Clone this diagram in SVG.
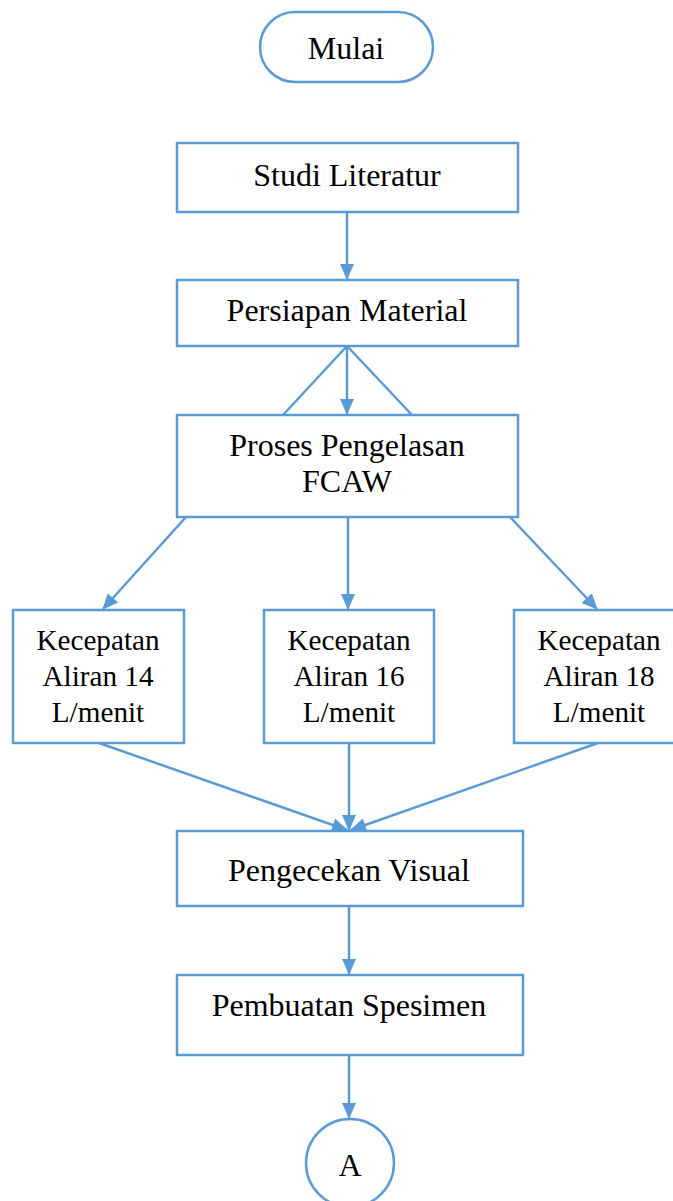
<svg xmlns="http://www.w3.org/2000/svg" width="673" height="1201" viewBox="0 0 673 1201">
<style>
.n{fill:#fff;stroke:#5B9BD5;stroke-width:2.5}
.t{font-family:"Liberation Serif","Times New Roman",serif;font-size:32px;fill:#000;text-anchor:middle}
.s{font-family:"Liberation Serif","Times New Roman",serif;font-size:29.2px;fill:#000;text-anchor:middle}
.c{fill:none;stroke:#5B9BD5;stroke-width:2.5}
</style>
<defs>
<marker id="ah" markerUnits="userSpaceOnUse" markerWidth="16" markerHeight="16" viewBox="0 0 16 16" refX="15" refY="8" orient="auto">
<path d="M0,1 L16,8 L0,15 Z" fill="#5B9BD5"/>
</marker>
</defs>
<rect width="673" height="1201" fill="#fff"/>
<g id="connectors">
<line class="c" x1="347" y1="212" x2="347" y2="279" marker-end="url(#ah)"/>
<line class="c" x1="347" y1="346" x2="347" y2="414" marker-end="url(#ah)"/>
<line class="c" x1="347" y1="346" x2="283" y2="415"/>
<line class="c" x1="347" y1="346" x2="412" y2="415"/>
<line class="c" x1="186" y1="517" x2="103" y2="609" marker-end="url(#ah)"/>
<line class="c" x1="348" y1="517" x2="348" y2="609" marker-end="url(#ah)"/>
<line class="c" x1="510" y1="517" x2="597" y2="609" marker-end="url(#ah)"/>
<line class="c" x1="99" y1="743" x2="347" y2="830" marker-end="url(#ah)"/>
<line class="c" x1="349" y1="743" x2="349" y2="830" marker-end="url(#ah)"/>
<line class="c" x1="598" y1="743" x2="351" y2="830" marker-end="url(#ah)"/>
<line class="c" x1="349" y1="906" x2="349" y2="974" marker-end="url(#ah)"/>
<line class="c" x1="349" y1="1055" x2="349" y2="1118" marker-end="url(#ah)"/>
</g>
<g id="mulai"><rect class="n" x="260" y="12" width="173" height="70" rx="35"/><text class="t" x="346" y="59">Mulai</text></g>
<g id="studi"><rect class="n" x="177" y="143" width="341" height="69"/><text class="t" x="347" y="186">Studi Literatur</text></g>
<g id="persiapan"><rect class="n" x="177" y="280" width="341" height="66"/><text class="t" x="347" y="321">Persiapan Material</text></g>
<g id="proses"><rect class="n" x="177" y="415" width="341" height="102"/><text class="t" x="347" y="456">Proses Pengelasan</text><text class="t" x="347" y="492">FCAW</text></g>
<g id="k14"><rect class="n" x="13" y="610" width="171" height="133"/><text class="s" x="98" y="650">Kecepatan</text><text class="s" x="98" y="686">Aliran 14</text><text class="s" x="98" y="722">L/menit</text></g>
<g id="k16"><rect class="n" x="264" y="610" width="170" height="133"/><text class="s" x="349" y="650">Kecepatan</text><text class="s" x="349" y="686">Aliran 16</text><text class="s" x="349" y="722">L/menit</text></g>
<g id="k18"><rect class="n" x="514" y="610" width="170" height="133"/><text class="s" x="599" y="650">Kecepatan</text><text class="s" x="599" y="686">Aliran 18</text><text class="s" x="599" y="722">L/menit</text></g>
<g id="visual"><rect class="n" x="177" y="831" width="346" height="75"/><text class="t" x="349" y="881">Pengecekan Visual</text></g>
<g id="spesimen"><rect class="n" x="177" y="975" width="346" height="80"/><text class="t" x="349" y="1016">Pembuatan Spesimen</text></g>
<g id="a"><circle class="n" cx="350" cy="1163" r="44"/><text class="t" x="350" y="1176">A</text></g>
</svg>
